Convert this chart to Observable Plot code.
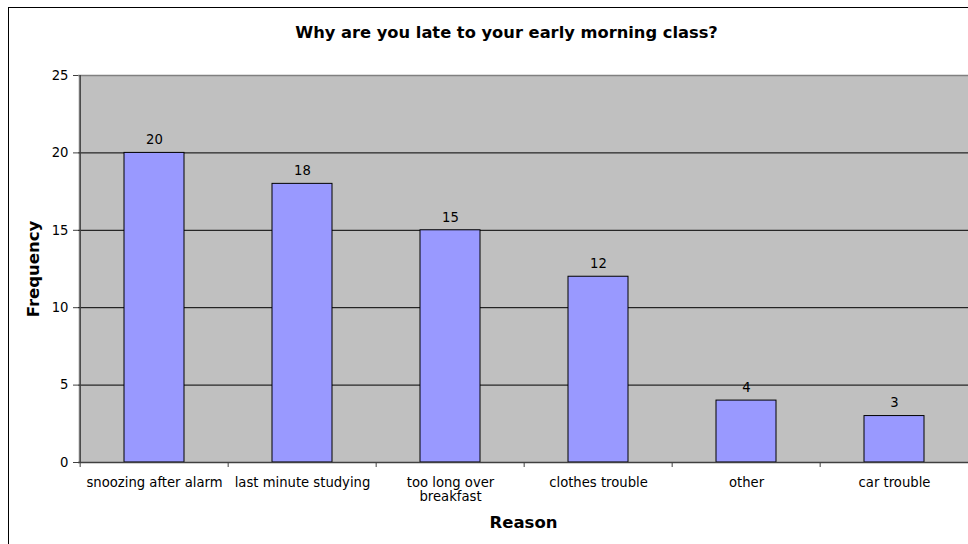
<!DOCTYPE html>
<html>
<head>
<meta charset="utf-8">
<script src="https://cdn.jsdelivr.net/npm/d3@7"></script>
<script src="https://cdn.jsdelivr.net/npm/@observablehq/plot@0.6"></script>
<style>
  body { margin: 0; background: white; }
  #wrap { position: relative; width: 968px; height: 544px; overflow: hidden; }
  #wrap svg { position: absolute; left: 0; top: 0; }
  #border { position: absolute; left: 8px; top: 7px; width: 1000px; height: 600px; border: 1.5px solid #000; box-sizing: border-box; pointer-events: none; }
</style>
</head>
<body>
<div id="wrap"><div id="border"></div></div>
<script>
const categories = ["snoozing after alarm", "last minute studying", "too long over breakfast", "clothes trouble", "other", "car trouble"];
const tickLabels = ["snoozing after alarm", "last minute studying", "too long over\nbreakfast", "clothes trouble", "other", "car trouble"];
const frequency = [20, 18, 15, 12, 4, 3];
const yTicks = [0, 5, 10, 15, 20, 25];
const chartTitle = "Why are you late to your early morning class?";
const xTitle = "Reason";
const yTitle = "Frequency";

const data = categories.map((c, i) => ({reason: c, label: tickLabels[i], value: frequency[i]}));

const xRange = [78, 970];
const step = (xRange[1] - xRange[0]) / categories.length;
const font = "'DejaVu Sans', Verdana, sans-serif";
const fs = 13.2;

const chart = Plot.plot({
  width: 968,
  height: 544,
  marginLeft: 78,
  marginTop: 75,
  marginBottom: 82,
  marginRight: 0,
  style: {fontFamily: font, fontSize: fs + "px", background: "transparent", color: "#000", overflow: "visible"},
  x: {domain: categories, range: xRange, paddingInner: 0.596, paddingOuter: 0.298, label: null, axis: null},
  y: {domain: [0, 25], label: null, axis: null},
  marks: [
    Plot.frame({fill: "#c0c0c0", stroke: null}),
    Plot.ruleY(yTicks.filter(t => t > 0 && t < 25), {stroke: "#000", strokeWidth: 1}),
    Plot.ruleY([25], {stroke: "#808080", strokeWidth: 1.5}),
    Plot.barY(data, {x: "reason", y: "value", fill: "#9999ff", stroke: "#000", strokeWidth: 1}),
    Plot.text(data, {x: "reason", y: "value", text: d => String(d.value), dy: -13, fill: "#000", fontSize: fs}),
    Plot.ruleY([0], {stroke: "#404040", strokeWidth: 1.5}),
    // category boundary ticks
    Plot.ruleX(categories, {x: d => d, dx: -step / 2, y1: 0, y2: 0, insetBottom: -5, stroke: "#404040"}),
    Plot.ruleX([categories[categories.length - 1]], {x: d => d, dx: step / 2, y1: 0, y2: 0, insetBottom: -5, stroke: "#404040"}),
    // y axis line
    Plot.ruleX([categories[0]], {x: d => d, dx: -step / 2, y1: 0, y2: 25, stroke: "#404040", strokeWidth: 1.5}),
    Plot.axisY({ticks: yTicks, tickSize: 5, tickPadding: 5, label: null, stroke: "#404040", fill: "#000", fontSize: fs}),
    Plot.text(data, {x: "reason", frameAnchor: "bottom", lineAnchor: "top", dy: 14, text: "label", lineHeight: 1.08, fill: "#000", fontSize: fs}),
    Plot.text([xTitle], {frameAnchor: "bottom", lineAnchor: "middle", dy: 60, text: d => d, fontWeight: "bold", fontSize: 16.5, fill: "#000"}),
    Plot.text([yTitle], {frameAnchor: "left", textAnchor: "middle", lineAnchor: "middle", dx: -45, rotate: -90, text: d => d, fontWeight: "bold", fontSize: 16.5, fill: "#000"}),
    Plot.text([chartTitle], {frameAnchor: "top", lineAnchor: "middle", dy: -43, dx: -17, text: d => d, fontWeight: "bold", fontSize: 16.3, fill: "#000"})
  ]
});
document.getElementById("wrap").prepend(chart);
</script>
</body>
</html>
